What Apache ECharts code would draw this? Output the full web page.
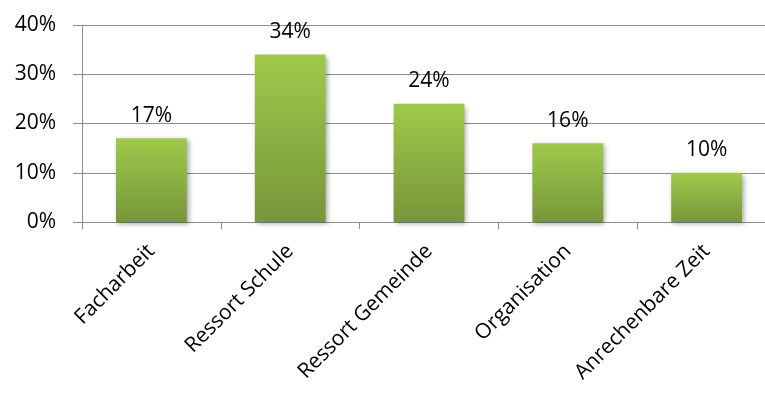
<!DOCTYPE html>
<html><head><meta charset="utf-8">
<script src="https://cdn.jsdelivr.net/npm/echarts@6/dist/echarts.min.js"></script>
<style>html,body{margin:0;padding:0;background:#fff}#c{width:765px;height:397px}</style>
</head><body><div id="c"></div>
<script>
var categories = ['Facharbeit', 'Ressort Schule', 'Ressort Gemeinde', 'Organisation', 'Anrechenbare Zeit'];
var values = [17, 34, 24, 16, 10];
var yTicks = [0, 10, 20, 30, 40];

var chart = echarts.init(document.getElementById('c'), null, {renderer: 'canvas'});
var font = '"Open Sans", sans-serif';
chart.setOption({
  animation: false,
  grid: {left: 82, top: 25, height: 197, width: 694, containLabel: false, outerBoundsMode: 'none'},
  xAxis: {
    type: 'category', data: categories,
    axisLine: {lineStyle: {color: '#8c8c8c', width: 1}},
    axisTick: {show: true, length: 7, alignWithLabel: false, lineStyle: {color: '#8c8c8c'}},
    axisLabel: {rotate: 45, color: '#000', fontFamily: font, fontSize: 21, margin: 26, interval: 0}
  },
  yAxis: {
    type: 'value', min: yTicks[0], max: yTicks[yTicks.length - 1], interval: 10,
    axisLine: {show: true, lineStyle: {color: '#8c8c8c'}},
    axisTick: {show: true, length: 9, lineStyle: {color: '#8c8c8c'}},
    splitLine: {lineStyle: {color: '#8c8c8c', width: 1}},
    axisLabel: {formatter: '{value}%', color: '#000', fontFamily: font, fontSize: 21, margin: 26}
  },
  series: [{
    type: 'bar', data: values, barWidth: '51%',
    itemStyle: {
      color: new echarts.graphic.LinearGradient(0, 0, 0, 1, [
        {offset: 0, color: '#a0c94b'}, {offset: 1, color: '#76973a'}
      ]),
      shadowColor: 'rgba(0,0,0,0.35)', shadowBlur: 5, shadowOffsetX: 2, shadowOffsetY: 2
    },
    label: {show: true, position: 'top', distance: 12, formatter: '{c}%', color: '#000', fontFamily: font, fontSize: 21}
  }]
});
</script></body></html>
